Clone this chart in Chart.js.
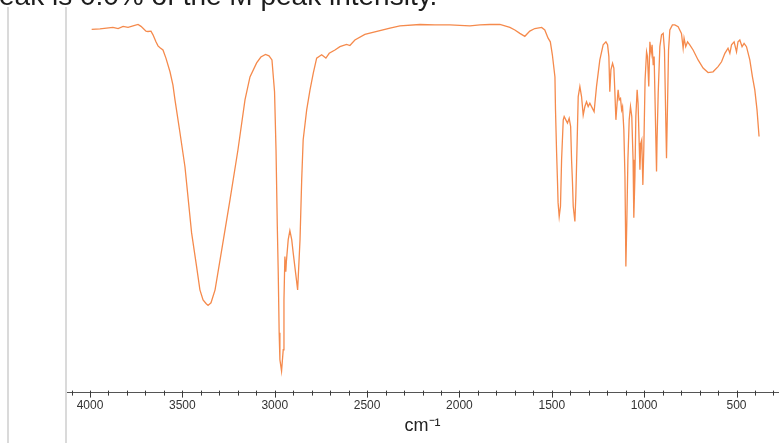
<!DOCTYPE html>
<html>
<head>
<meta charset="utf-8">
<script src="https://cdn.jsdelivr.net/npm/chart.js@4.4.1/dist/chart.umd.min.js"></script>
<style>
  html, body { margin: 0; padding: 0; background: #fff; overflow: hidden; }
  #wrap { position: relative; width: 779px; height: 443px; }
  #ir { position: absolute; left: 0; top: 0; }
  .cut { position: absolute; left: -1px; top: -18px; font: 28px/28px "Liberation Sans", Arial, sans-serif; color: #1c1c1c; white-space: nowrap; }
  .rule { position: absolute; top: 7px; bottom: 0; width: 2px; background: #dadada; }
</style>
</head>
<body>
<div id="wrap">
  <canvas id="ir" width="779" height="443"></canvas>
  <div class="cut">eak is 0.0% of the M peak intensity.</div>
  <div class="rule" style="left:7px"></div>
  <div class="rule" style="left:65px"></div>
</div>
<script>
// IR spectrum, wavenumber (cm-1) vs transmittance (%)
var wavenumbers = [
  3991, 3946, 3876, 3848, 3821, 3794, 3767, 3740, 3724, 3713, 3697, 3686, 3670, 3659, 3643, 3632,
  3621, 3605, 3589, 3567, 3551, 3540, 3513, 3486, 3450, 3423, 3405, 3388, 3372, 3361, 3345, 3323,
  3287, 3242, 3199, 3161, 3134, 3098, 3075, 3050, 3031, 3015, 3001, 2993, 2986, 2981, 2976, 2972,
  2963, 2954, 2950, 2945, 2940, 2937, 2927, 2918, 2908, 2900, 2887, 2876, 2863, 2854, 2846, 2827,
  2809, 2791, 2773, 2746, 2723, 2705, 2674, 2647, 2611, 2593, 2566, 2512, 2458, 2376, 2322, 2214,
  2133, 2052, 1971, 1943, 1889, 1835, 1781, 1727, 1700, 1673, 1646, 1619, 1592, 1555, 1538, 1520,
  1508, 1497, 1483, 1480, 1474, 1469, 1466, 1460, 1453, 1447, 1438, 1433, 1424, 1415, 1406, 1398,
  1393, 1388, 1384, 1375, 1370, 1363, 1357, 1348, 1339, 1330, 1321, 1312, 1303, 1294, 1280, 1271,
  1258, 1240, 1222, 1207, 1198, 1191, 1186, 1180, 1171, 1164, 1159, 1153, 1146, 1141, 1135, 1128,
  1122, 1117, 1110, 1104, 1101, 1099, 1094, 1088, 1081, 1074, 1067, 1060, 1056, 1050, 1045, 1038,
  1033, 1027, 1023, 1018, 1013, 1007, 1002, 995, 987, 982, 975, 969, 962, 957, 951, 946,
  940, 933, 930, 924, 915, 906, 897, 890, 884, 879, 874, 868, 861, 847, 834, 816,
  798, 789, 784, 775, 765, 753, 735, 708, 681, 654, 627, 600, 581, 563, 546, 536,
  527, 513, 500, 492, 482, 470, 459, 446, 428, 414, 401, 389, 378
];
var transmittance = [
  98.3, 98.4, 98.8, 98.5, 99.1, 98.8, 99.2, 99.6, 99.1, 98.6, 97.8, 97.7, 97.8, 96.8, 94.9, 93.8,
  93.3, 92.7, 90.5, 86.8, 83.2, 79.2, 70.3, 61.1, 43.2, 34.1, 27.8, 25.1, 24.1, 23.6, 24.3, 27.8,
  38.6, 52.2, 65.7, 79.2, 85.4, 89.2, 90.8, 91.5, 91.1, 90.0, 81.4, 65.7, 44.9, 32.4, 16.2, 8.9,
  5.8, 11.6, 25.1, 36.8, 32.7, 35.4, 41.4, 43.8, 41.4, 37.8, 32.4, 27.8, 41.4, 57.6, 68.4, 76.5,
  81.9, 86.5, 90.5, 91.4, 90.5, 91.8, 92.7, 93.6, 94.2, 93.9, 95.4, 96.9, 97.6, 98.6, 99.2, 99.6,
  99.5, 99.5, 99.3, 99.2, 99.5, 99.6, 99.6, 98.8, 98.1, 97.2, 96.4, 97.8, 98.5, 98.8, 98.1, 95.9,
  94.9, 91.4, 85.4, 76.5, 64.9, 56.8, 51.4, 47.6, 50.4, 63.0, 73.8, 74.7, 73.8, 72.9, 74.2, 72.0,
  63.0, 56.8, 50.4, 46.3, 53.1, 67.5, 80.1, 82.8, 80.1, 75.1, 77.4, 78.7, 77.4, 78.3, 76.9, 76.0,
  82.8, 90.0, 94.1, 94.9, 94.1, 90.9, 81.4, 87.3, 89.1, 87.8, 81.9, 73.8, 78.7, 81.9, 79.2, 79.6,
  76.5, 77.4, 71.1, 58.5, 44.9, 34.1, 45.9, 63.0, 73.8, 77.4, 74.7, 63.0, 47.3, 58.5, 74.7, 81.9,
  78.3, 67.5, 60.3, 67.5, 68.4, 56.2, 65.7, 84.6, 92.2, 90.9, 82.8, 94.9, 91.8, 94.1, 88.6, 90.9,
  76.5, 59.8, 68.8, 81.0, 93.6, 96.8, 97.2, 92.7, 76.5, 63.4, 76.5, 92.7, 98.1, 99.5, 99.5, 99.0,
  97.2, 93.2, 95.9, 93.6, 94.9, 94.1, 92.7, 90.0, 87.8, 86.6, 86.8, 88.2, 89.5, 91.8, 93.2, 91.8,
  94.1, 94.9, 92.2, 94.9, 95.4, 93.6, 94.5, 93.6, 90.0, 85.5, 81.9, 76.5, 69.3
];
var tickLabels = [4000, 3500, 3000, 2500, 2000, 1500, 1000, 500];
var minorTicks = [];
for (var m = 300; m <= 4100; m += 100) minorTicks.push(m);

var LINE = '#F58A4C';

// small tick marks every 100, longer ones on the labelled values
var axisTicks = {
  id: 'axisTicks',
  afterDraw: function (chart) {
    var sx = chart.scales.x, ctx = chart.ctx, y0 = chart.chartArea.bottom;
    ctx.save();
    ctx.strokeStyle = '#3a3a3a';
    ctx.lineWidth = 1;
    ctx.beginPath();
    minorTicks.forEach(function (v) {
      var px = Math.round(sx.getPixelForValue(v)) + 0.5;
      var major = tickLabels.indexOf(v) !== -1;
      ctx.moveTo(px, y0 - 2);
      ctx.lineTo(px, y0 + (major ? 5 : 3));
    });
    ctx.stroke();
    ctx.restore();
  }
};

new Chart(document.getElementById('ir').getContext('2d'), {
  type: 'line',
  data: {
    datasets: [{
      data: wavenumbers.map(function (w, i) { return { x: w, y: transmittance[i] }; }),
      borderColor: LINE, borderWidth: 1.3, pointRadius: 0, tension: 0, fill: false
    }]
  },
  options: {
    responsive: false, animation: false, events: [],
    layout: { padding: { left: 66, top: 23, right: 0, bottom: 6 } },
    plugins: { legend: { display: false }, tooltip: { enabled: false } },
    scales: {
      x: {
        type: 'linear', reverse: true, min: 270, max: 4130,
        afterBuildTicks: function (s) { s.ticks = tickLabels.map(function (v) { return { value: v }; }); },
        grid: { display: false, drawTicks: false },
        border: { display: true, color: '#555', width: 1 },
        ticks: { padding: 7, color: '#333', maxRotation: 0, autoSkip: false,
          callback: function (v) { return String(v); },
          font: { family: 'Liberation Sans', size: 12, lineHeight: 1 } },
        title: { display: true, text: 'cm⁻¹', color: '#222', padding: { top: 0, bottom: 4 },
          font: { family: 'Liberation Sans', size: 18, lineHeight: 0.8 } }
      },
      y: { display: false, min: 0, max: 100 }
    }
  },
  plugins: [axisTicks]
});
</script>
</body>
</html>
